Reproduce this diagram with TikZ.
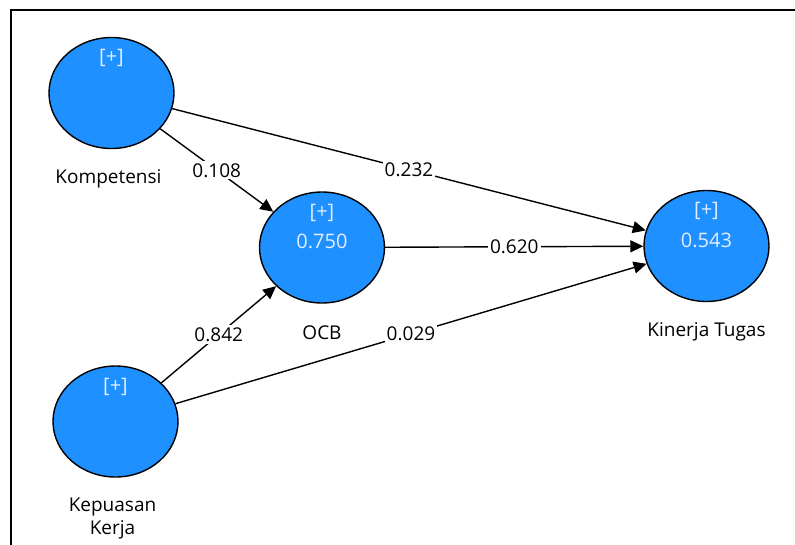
\documentclass[tikz,border=0pt]{standalone}
\usepackage{fontspec}
\setmainfont{Open Sans}
\usepackage{tikz}
\usetikzlibrary{arrows.meta,positioning,shapes.geometric}
\definecolor{lvblue}{RGB}{30,144,255}
\definecolor{lvtext}{RGB}{226,238,255}

\begin{document}
\begin{tikzpicture}[
        x=1pt, y=-1pt,
        font=\fontsize{19}{23}\selectfont,
        node distance=20pt,
        lv/.style={ellipse, draw, line width=1.4pt, fill=lvblue,
                   minimum width=125pt, minimum height=111pt, inner sep=0pt},
        inner/.style={text=lvtext, inner sep=0pt, font=\fontsize{20}{24}\selectfont},
        lvname/.style={inner sep=0pt, align=center},
        coef/.style={fill=white, inner sep=2pt},
        a/.style={-{Triangle[length=13pt, width=12pt]}, line width=1.4pt}
    ]
        \useasboundingbox (0,0) rectangle (795,544);
        \draw[line width=2.6pt] (11,560) -- (11,10) -- (810,10);

        \node[lv] (kom) at (111.5,93) {};
        \node[lv] (kep) at (115.5,421.5) {};
        \node[lv] (ocb) at (322,247.5) {};
        \node[lv] (kin) at (706.5,246) {};

        \node[inner] (komplus) at ([yshift=35pt]kom.center) {[+]};
        \node[inner] (kepplus) at ([yshift=35pt]kep.center) {[+]};
        \node[inner] (ocbplus) at ([yshift=35pt]ocb.center) {[+]};
        \node[inner] (kinplus) at ([yshift=35pt]kin.center) {[+]};
        \node[inner] (ocbr2) at ([yshift=6pt]ocb.center) {0.750};
        \node[inner] (kinr2) at ([yshift=6pt]kin.center) {0.543};

        \node[lvname, below=of kom, xshift=-3pt] (komname) {Kompetensi};
        \node[lvname, below=of kep, xshift=-3pt] (kepname) {Kepuasan\\Kerja};
        \node[lvname, below=22pt of ocb] (ocbname) {OCB};
        \node[lvname, below=of kin] (kinname) {Kinerja Tugas};

        \draw[a] (kom) -- node[coef]{0.108} (ocb);
        \draw[a] (kep) -- node[coef]{0.842} (ocb);
        \draw[a] (kom) -- node[coef]{0.232} (kin);
        \draw[a] (ocb) -- node[coef]{0.620} (kin);
        \draw[a] (kep) -- node[coef]{0.029} (kin);
    \end{tikzpicture}
\end{document}
